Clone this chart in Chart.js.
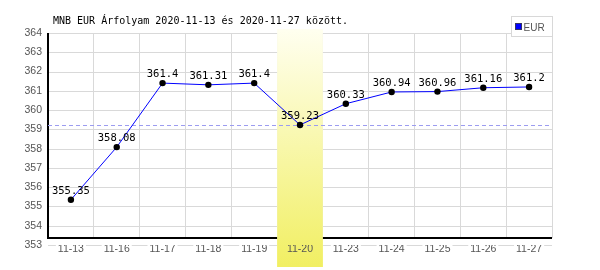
<!DOCTYPE html>
<html>
<head>
<meta charset="utf-8">
<script src="https://cdn.jsdelivr.net/npm/chart.js@4"></script>
<style>
html,body{margin:0;padding:0;background:#fff;}
#c{display:block;}
</style>
</head>
<body>
<canvas id="c" width="600" height="270" style="width:600px;height:270px"></canvas>
<script>
const categories = ['11-13','11-16','11-17','11-18','11-19','11-20','11-23','11-24','11-25','11-26','11-27'];
const eurValues = [355.35, 358.08, 361.4, 361.31, 361.4, 359.23, 360.33, 360.94, 360.96, 361.16, 361.2];
const yTicks = [353, 354, 355, 356, 357, 358, 359, 360, 361, 362, 363, 364];
const highlightIndex = 5;
const refValue = eurValues[highlightIndex];
const titleText = 'MNB EUR Árfolyam 2020-11-13 és 2020-11-27 között.';
const seriesName = 'EUR';

const MONO = '"DejaVu Sans Mono", "Liberation Mono", monospace';
const SANS = '"Liberation Sans", Arial, sans-serif';

function bandBounds(chart){
  const x = chart.scales.x;
  const half = (x.getPixelForValue(1) - x.getPixelForValue(0)) / 2;
  const cx = x.getPixelForValue(highlightIndex);
  return {bl: cx - half, br: cx + half, half};
}

const decor = {
  id: 'decor',
  beforeDraw(chart){
    const {ctx, chartArea: a, scales: {y}} = chart;
    const {bl, br} = bandBounds(chart);
    // baseline grid line (lowest tick) drawn underneath the tick labels
    ctx.save();
    ctx.beginPath();
    ctx.rect(0, 0, bl, chart.height);
    ctx.rect(br, 0, chart.width - br, chart.height);
    ctx.clip();
    ctx.strokeStyle = '#d9d9d9';
    ctx.lineWidth = 1;
    const py = Math.round(y.getPixelForValue(yTicks[0])) + 0.5;
    ctx.beginPath(); ctx.moveTo(a.left, py); ctx.lineTo(a.right, py); ctx.stroke();
    ctx.restore();

    const top = a.top - 4, bot = 267;
    const g = ctx.createLinearGradient(0, top, 0, bot);
    g.addColorStop(0, '#fffff0');
    g.addColorStop(1, '#f1ef62');
    ctx.save();
    ctx.fillStyle = g;
    ctx.fillRect(bl, top, br - bl, bot - top);
    ctx.restore();
  },
  beforeDatasetsDraw(chart){
    const {ctx, chartArea: a, scales: {x, y}} = chart;
    const {bl, br, half} = bandBounds(chart);
    ctx.save();
    ctx.beginPath();
    ctx.rect(0, 0, bl, chart.height);
    ctx.rect(br, 0, chart.width - br, chart.height);
    ctx.clip();
    ctx.strokeStyle = '#d9d9d9';
    ctx.lineWidth = 1;
    const axisY = Math.round(y.getPixelForValue(yTicks[0])) - 7;
    yTicks.slice(1).forEach(v => {
      const py = Math.round(y.getPixelForValue(v)) + 0.5;
      ctx.beginPath(); ctx.moveTo(a.left, py); ctx.lineTo(a.right, py); ctx.stroke();
    });
    for (let i = 1; i <= categories.length; i++){
      const px = Math.floor(x.getPixelForValue(i - 1) + half) + 0.5;
      ctx.beginPath(); ctx.moveTo(px, a.top); ctx.lineTo(px, axisY); ctx.stroke();
    }
    ctx.strokeStyle = '#000';
    ctx.lineWidth = 2;
    ctx.beginPath();
    ctx.moveTo(a.left, a.top);
    ctx.lineTo(a.left, axisY);
    ctx.lineTo(a.right, axisY);
    ctx.stroke();
    ctx.restore();

    ctx.save();
    ctx.setLineDash([4, 3]);
    ctx.strokeStyle = '#9c9cf0';
    ctx.lineWidth = 1;
    const ry = Math.round(y.getPixelForValue(refValue)) + 0.5;
    ctx.beginPath(); ctx.moveTo(a.left, ry); ctx.lineTo(a.right, ry); ctx.stroke();
    ctx.restore();
  },
  afterDatasetsDraw(chart){
    const {ctx, scales: {x, y}} = chart;
    ctx.save();
    ctx.fillStyle = '#000';
    ctx.font = '10.5px ' + MONO;
    ctx.textAlign = 'center';
    ctx.textBaseline = 'alphabetic';
    eurValues.forEach((v, i) => {
      ctx.fillText(String(v), x.getPixelForValue(i), y.getPixelForValue(v) - 6);
    });
    ctx.font = '10px ' + MONO;
    ctx.textAlign = 'left';
    ctx.fillText(titleText, 53, 24);

    // legend
    ctx.fillStyle = '#fff';
    ctx.fillRect(511.5, 16.5, 41, 20);
    ctx.strokeStyle = '#d8d8d8';
    ctx.lineWidth = 1;
    ctx.strokeRect(511.5, 16.5, 41, 20);
    ctx.fillStyle = '#0000ff';
    ctx.fillRect(515.5, 23.5, 6, 6);
    ctx.strokeStyle = '#333366';
    ctx.strokeRect(515.5, 23.5, 6, 6);
    ctx.fillStyle = '#555';
    ctx.font = '10px ' + SANS;
    ctx.textBaseline = 'alphabetic';
    ctx.fillText(seriesName, 523.5, 30.5);
    ctx.restore();
  }
};

new Chart(document.getElementById('c'), {
  type: 'line',
  data: {
    labels: categories,
    datasets: [{
      label: seriesName,
      data: eurValues,
      borderColor: '#0000ff',
      borderWidth: 1,
      backgroundColor: '#000',
      pointBackgroundColor: '#000',
      pointBorderWidth: 0,
      pointRadius: 3.2,
      pointHoverRadius: 3.2,
      tension: 0,
      fill: false
    }]
  },
  options: {
    responsive: false,
    devicePixelRatio: 1,
    animation: false,
    events: [],
    layout: {padding: {top: 33, right: 48, left: 0, bottom: 0}},
    plugins: {legend: {display: false}, title: {display: false}, tooltip: {enabled: false}},
    scales: {
      x: {
        type: 'category',
        offset: true,
        grid: {display: false, drawTicks: false},
        border: {display: false},
        ticks: {
          color: '#555', font: {family: SANS, size: 10.5}, padding: -2,
          autoSkip: false, maxRotation: 0, minRotation: 0,
          showLabelBackdrop: true,
          backdropColor: ctx => ctx.index === highlightIndex ? 'rgba(0,0,0,0)' : '#fff',
          backdropPadding: {left: 2, right: 2, top: 1, bottom: 1}
        },
        afterFit(s){ s.height = 25; }
      },
      y: {
        min: yTicks[0],
        max: yTicks[yTicks.length - 1],
        grid: {display: false, drawTicks: false},
        border: {display: false},
        ticks: {color: '#555', font: {family: SANS, size: 10.5}, padding: 6},
        afterBuildTicks(s){ s.ticks = yTicks.map(v => ({value: v})); },
        afterFit(s){ s.width = 48; }
      }
    }
  },
  plugins: [decor]
});
</script>
</body>
</html>
